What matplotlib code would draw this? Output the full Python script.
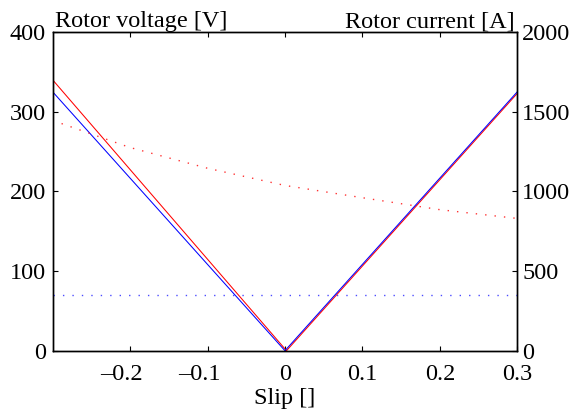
import numpy as np
import matplotlib
matplotlib.use('Agg')
import matplotlib.pyplot as plt
import matplotlib.transforms as mtransforms

# Data
slip_v = [-0.3, 0.0, 0.3]
volt_blue = [325, 0, 325]
slip_v_red = [-0.3, 0.002, 0.3]
volt_red = [340, 0, 323]

slip_i = [-0.3, -0.2, -0.1, 0.0, 0.1, 0.2, 0.3]
curr_red = [1445, 1275, 1145, 1037, 960, 885, 830]
curr_blue = [350, 350, 350, 350, 350, 350, 350]

x_ticks = [-0.2, -0.1, 0, 0.1, 0.2, 0.3]
x_ticklabels = ['\u20130.2', '\u20130.1', '0', '0.1', '0.2', '0.3']

plt.rcParams['font.family'] = ['Liberation Serif', 'DejaVu Serif']

fs = 17.5

fig = plt.figure(figsize=(5.74, 4.12), dpi=100)
ax = fig.add_axes([0.0918, 0.1488, 0.8094, 0.7735])
ax2 = ax.twinx()

dots = (0, (1, 5.8))

ax.plot(slip_v_red, volt_red, color='#ff0000', lw=0.75)
ax.plot(slip_v, volt_blue, color='#0000ff', lw=0.75)
ax2.plot(slip_i, curr_red, color='#ff0000', lw=1.0, linestyle=dots, alpha=0.8)
ax2.plot(slip_i, curr_blue, color='#0000ff', lw=1.0, linestyle=dots, alpha=0.7)

ax.set_xlim(-0.2999, 0.3)
ax.set_ylim(0, 400)
ax2.set_ylim(0, 2000)
ax.set_xticks(x_ticks)
ax.set_xticklabels(x_ticklabels)
ax.set_yticks([0, 100, 200, 300, 400])
ax2.set_yticks([0, 500, 1000, 1500, 2000])

for a in (ax, ax2):
    for s in a.spines.values():
        s.set_linewidth(1.0)
    a.tick_params(direction='in', length=3.5, width=0.8, labelsize=fs)
ax.tick_params(axis='x', top=True, pad=9.5)
ax.tick_params(axis='y', right=False, pad=5)
ax2.tick_params(axis='y', left=False, pad=3.5)

# shift negative tick labels left, so the number part sits under the tick
shift = mtransforms.ScaledTranslation(-8.5 / 100, 0, fig.dpi_scale_trans)
for lab in ax.get_xticklabels():
    if lab.get_text().startswith('\u2013'):
        lab.set_transform(lab.get_transform() + shift)

ax.text(0.005, 1.015, 'Rotor voltage [V]', transform=ax.transAxes,
        fontsize=fs, ha='left', va='baseline')
ax.text(0.994, 1.015, 'Rotor current [A]', transform=ax.transAxes,
        fontsize=fs, ha='right', va='baseline')
ax.set_xlabel('Slip []', fontsize=fs, labelpad=2)

fig.savefig('out.png', dpi=100)
